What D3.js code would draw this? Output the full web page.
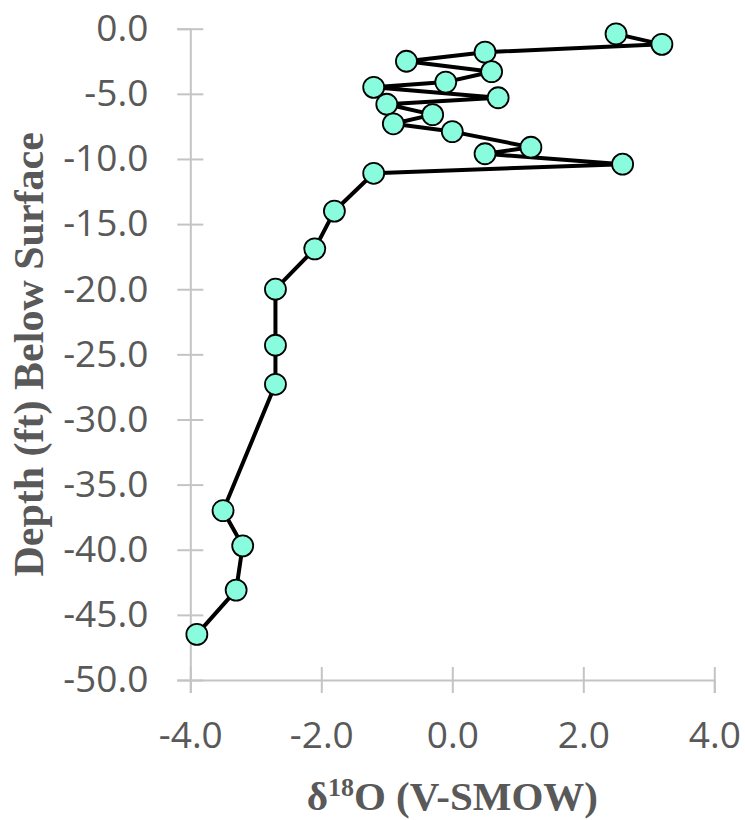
<!DOCTYPE html>
<html>
<head>
<meta charset="utf-8">
<script src="https://cdn.jsdelivr.net/npm/d3@7"></script>
<style>
  body { margin: 0; background: #fff; }
  svg { display: block; }
</style>
</head>
<body>
<script>
const width = 745;
const height = 820;

// δ18O values (x) and depth below surface (y), in sample order
const d18O = [2.5, 3.2, 0.5, -0.7, 0.6, -0.1, -1.2, 0.7, -1.0, -0.3, -0.9, 0.0, 1.2, 0.5, 2.6, -1.2,
	-1.8, -2.1, -2.7, -2.7, -2.7, -3.5, -3.2, -3.3, -3.9];
const depth = [-0.4, -1.2, -1.8, -2.5, -3.3, -4.1, -4.5, -5.3, -5.8, -6.6, -7.3, -7.9, -9.1, -9.6, -10.4, -11.1,
	-14.0, -16.9, -20.0, -24.3, -27.3, -37.0, -39.7, -43.1, -46.5];

const xTicks = [-4, -2, 0, 2, 4];
const yTicks = [0, -5, -10, -15, -20, -25, -30, -35, -40, -45, -50];

const points = d18O.map(function (v, i) { return { x: v, y: depth[i] }; });

const fmt = d3.formatLocale({ decimal: ".", thousands: ",", grouping: [3], currency: ["", ""], minus: "-" }).format(".1f");

const x = d3.scaleLinear().domain([-4, 4]).range([190.3, 714.3]);
const y = d3.scaleLinear().domain([0, -50]).range([28.7, 680]);

const svg = d3.select("body").append("svg")
	.attr("width", width)
	.attr("height", height);

const axisColor = "#c4c4c4";
const textColor = "#595959";

// y axis
const yAxis = svg.append("g")
	.attr("transform", "translate(" + x(-4) + ",0)")
	.call(d3.axisLeft(y).tickValues(yTicks).tickFormat(fmt).tickSize(13).tickPadding(29));
yAxis.select(".domain").attr("stroke", axisColor).attr("stroke-width", 2);
yAxis.selectAll(".tick line").attr("stroke", axisColor).attr("stroke-width", 2).attr("x1", 13).attr("x2", -13);
yAxis.selectAll(".tick text")
	.attr("fill", textColor)
	.style("font-family", "'Open Sans', sans-serif")
	.style("font-size", "37px");

// x axis
const xAxis = svg.append("g")
	.attr("transform", "translate(0," + y(-50) + ")")
	.call(d3.axisBottom(x).tickValues(xTicks).tickFormat(fmt).tickSize(13).tickPadding(29));
xAxis.select(".domain").attr("stroke", axisColor).attr("stroke-width", 2);
xAxis.selectAll(".tick line").attr("stroke", axisColor).attr("stroke-width", 2).attr("y1", -13).attr("y2", 13);
xAxis.selectAll(".tick text")
	.attr("fill", textColor)
	.style("font-family", "'Open Sans', sans-serif")
	.style("font-size", "37px");

// line
const line = d3.line()
	.x(function (d) { return x(d.x); })
	.y(function (d) { return y(d.y); });

svg.append("path")
	.datum(points)
	.attr("fill", "none")
	.attr("stroke", "#000")
	.attr("stroke-width", 4)
	.attr("stroke-linejoin", "round")
	.attr("d", line);

// markers
svg.selectAll("circle")
	.data(points)
	.enter()
	.append("circle")
	.attr("cx", function (d) { return x(d.x); })
	.attr("cy", function (d) { return y(d.y); })
	.attr("r", 10.5)
	.attr("fill", "#88fcdc")
	.attr("stroke", "#000")
	.attr("stroke-width", 1.8);

// axis titles
const xTitle = svg.append("text")
	.attr("x", (x(-4) + x(4)) / 2)
	.attr("y", 810)
	.attr("text-anchor", "middle")
	.attr("fill", textColor)
	.style("font-family", "'Liberation Serif', 'Times New Roman', serif")
	.style("font-weight", "bold")
	.style("font-size", "41px");
xTitle.append("tspan").text("δ");
xTitle.append("tspan").attr("dy", -14).style("font-size", "26px").text("18");
xTitle.append("tspan").attr("dy", 14).text("O (V-SMOW)");

svg.append("text")
	.attr("transform", "translate(43," + (y(0) + y(-50)) / 2 + ") rotate(-90)")
	.attr("text-anchor", "middle")
	.attr("fill", textColor)
	.style("font-family", "'Liberation Serif', 'Times New Roman', serif")
	.style("font-weight", "bold")
	.style("font-size", "42px")
	.text("Depth (ft) Below Surface");
</script>
</body>
</html>
